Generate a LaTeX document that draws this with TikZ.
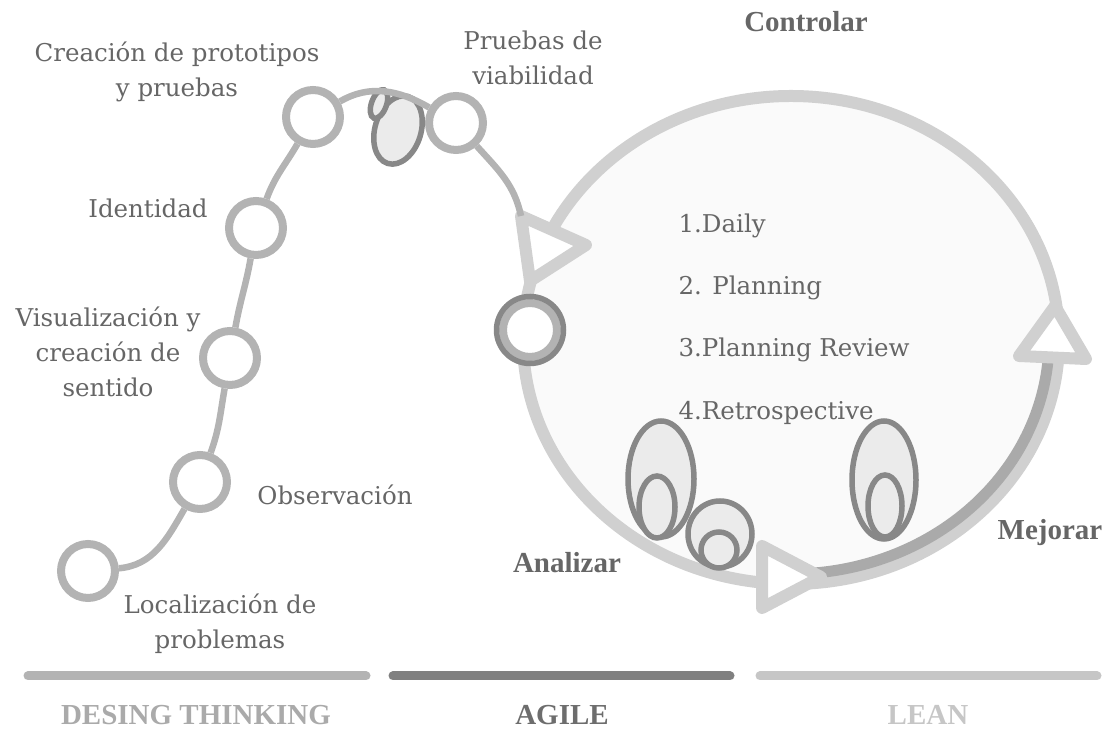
\documentclass[tikz,border=0pt]{standalone}
\usepackage{fontspec}
\setmainfont{DejaVu Serif}
\newfontfamily\headfont{Liberation Serif}
\usepackage{tikz}
\usetikzlibrary{arrows.meta}

\definecolor{trailgray}{HTML}{B3B3B3}
\definecolor{loopgray}{HTML}{D0D0D0}
\definecolor{loopfill}{HTML}{FAFAFA}
\definecolor{arcgray}{HTML}{AAAAAA}
\definecolor{edgegray}{HTML}{888888}
\definecolor{blobfill}{HTML}{EBEBEB}
\definecolor{textgray}{HTML}{666666}
\definecolor{agilegray}{HTML}{808080}
\definecolor{leangray}{HTML}{C6C6C6}

\tikzset{
  stage/.style={shape=circle,draw=trailgray,fill=white,line width=8pt,minimum size=54pt,inner sep=0pt},
  trail/.style={draw=trailgray,line width=6.5pt},
  marker/.style={draw=loopgray,fill=white,line width=12pt,line join=round},
  blob/.style={draw=edgegray,fill=blobfill,line width=5.5pt},
  label/.style={text=textgray,font=\fontsize{24.5}{35}\selectfont,align=center},
  item/.style={text=textgray,font=\fontsize{24.5}{30}\selectfont,anchor=base west},
  cycle label/.style={text=textgray,font=\headfont\bfseries\fontsize{29}{30}\selectfont,anchor=base},
  phase/.style={line width=9pt,line cap=round},
  phase label/.style={font=\headfont\bfseries\fontsize{29}{30}\selectfont,anchor=base}
}

\begin{document}
\begin{tikzpicture}[x=1pt,y=1pt]
\useasboundingbox (0,0) rectangle (1109,730);

% the big loop
\draw[draw=loopgray,fill=loopfill,line width=12pt] (791,390) ellipse [x radius=268pt,y radius=244pt];
\draw[draw=arcgray,line width=11pt] plot[domain=-85:-5,samples=60] ({791+258*cos(\x)},{390+234*sin(\x)});

% blobs inside the loop
\draw[blob,rotate around={-17:(398,600)}] (398,600) ellipse [x radius=23pt,y radius=35pt];
\draw[blob,rotate around={-20:(379,626)}] (379,626) ellipse [x radius=7.5pt,y radius=15pt];
\draw[blob] (661,251) ellipse [x radius=33pt,y radius=58pt];
\draw[blob] (657,223) ellipse [x radius=18pt,y radius=31pt];
\draw[blob] (720,196) ellipse [x radius=32pt,y radius=33pt];
\draw[blob] (719,180) ellipse [x radius=18pt,y radius=18pt];
\draw[blob] (884,250) ellipse [x radius=32pt,y radius=59pt];
\draw[blob] (885,224) ellipse [x radius=17pt,y radius=31pt];

% direction markers
\draw[marker] (521,514) -- (530,449) -- (586,485) -- cycle;
\draw[marker] (762,184) -- (762,122) -- (821,153) -- cycle;
\draw[marker] (1055,424) -- (1019,374) -- (1086,371) -- cycle;

% stages along the path
\node[stage] (loc) at (88,159) {};
\node[stage] (obs) at (200,248) {};
\node[stage] (vis) at (230,372) {};
\node[stage] (ide) at (256,502) {};
\node[stage] (pro) at (313,613) {};
\node[stage] (via) at (456,607) {};
\coordinate (entry) at (521,514);
\node[stage] (hub) at (530,400) {};
\draw[draw=edgegray,line width=5.5pt] (hub.center) circle [radius=33.5pt];

\draw[trail] (loc) to[out=5,in=240] (obs)
  to[out=70,in=260] (vis)
  to[out=80,in=260] (ide)
  to[out=70,in=240] (pro)
  to[out=30,in=150] (via)
  to[out=-48,in=102] (entry);

% stage labels
\node[label] (locl) at (220,106) {Localización de\\problemas};
\node[label,anchor=base] (obsl) at (335,225) {Observación};
\node[label] (visl) at (108,378) {Visualización y\\creación de\\sentido};
\node[label,anchor=base] (idel) at (148,512) {Identidad};
\node[label] (prol) at (177,658) {Creación de prototipos\\y pruebas};
\node[label] (vial) at (533,672) {Pruebas de\\viabilidad};

% ceremonies
\node[item] (daily) at (675,497) {1.Daily};
\node[item] (plan) at (675,435) {2. Planning};
\node[item] (review) at (675,373) {3.Planning Review};
\node[item] (retro) at (675,310) {4.Retrospective};

\node[cycle label] (ctrl) at (806,698) {Controlar};
\node[cycle label] (anl) at (567,157) {Analizar};
\node[cycle label] (mej) at (1050,190) {Mejorar};

% phases
\draw[phase,trailgray] (28,54) -- (366,54);
\draw[phase,agilegray] (393,54) -- (730,54);
\draw[phase,leangray] (760,54) -- (1097,54);
\node[phase label,text=arcgray] (dt) at (196,5) {DESING THINKING};
\node[phase label,text=agilegray!85!black] (agile) at (562,5) {AGILE};
\node[phase label,text=leangray] (lean) at (928,5) {LEAN};
\end{tikzpicture}
\end{document}
